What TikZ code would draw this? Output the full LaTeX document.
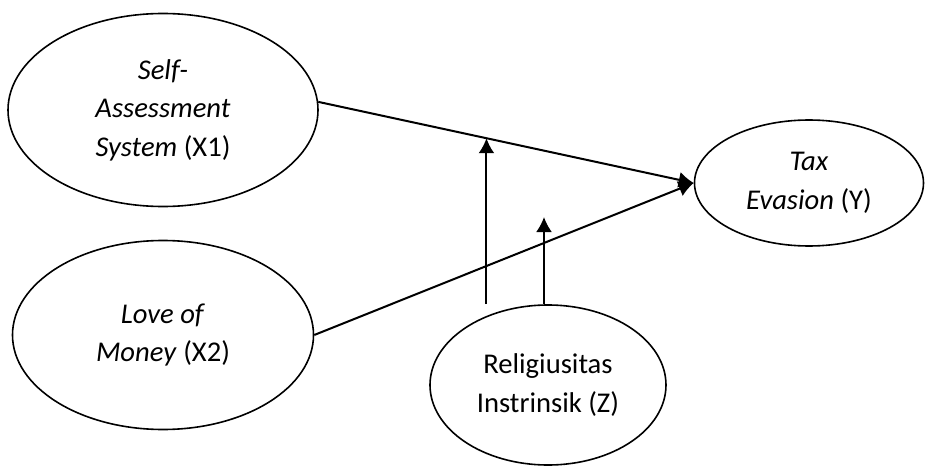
\documentclass[tikz,border=0pt]{standalone}
\usepackage{fontspec}
\setmainfont{Carlito}
\usetikzlibrary {arrows.meta,calc,shapes.geometric}

\begin{document}
\begin{tikzpicture}[x=0.5pt, y=-0.5pt,
    var/.style = {ellipse, draw, line width=0.8pt, inner sep=0pt, align=center,
                  font=\fontsize{14.3pt}{19.25pt}\selectfont},
    effect/.style = {line width=1pt, -{Latex[length=7.5pt,width=8pt]}}]
  \useasboundingbox (0,0) rectangle (928,466);

  \node [var, minimum width=155pt, minimum height=96.5pt] (X1) at (163,110)
        {\textit{Self-}\\\textit{Assessment}\\\textit{System} (X1)};
  \node [var, minimum width=150.5pt, minimum height=94.5pt] (X2) at (163,335)
        {\textit{Love of}\\\textit{Money} (X2)};
  \node [var, minimum width=114.5pt, minimum height=63pt] (Y) at (809,183)
        {\textit{Tax}\\\textit{Evasion} (Y)};
  \node [var, minimum width=118pt, minimum height=80pt] (Z) at (548,385)
        {Religiusitas\\Instrinsik (Z)};

  \coordinate (m1) at ($(X1.3)!0.448!(Y.west)$);
  \coordinate (m2) at (544,217);

  \draw [effect] (X1.3) -- (Y.west);
  \draw [effect] (X2.east) -- (Y.west);
  \draw [effect] (Z.north -| m1) -- (m1);
  \draw [effect] (Z.north -| m2) -- (m2);

\end{tikzpicture}
\end{document}
